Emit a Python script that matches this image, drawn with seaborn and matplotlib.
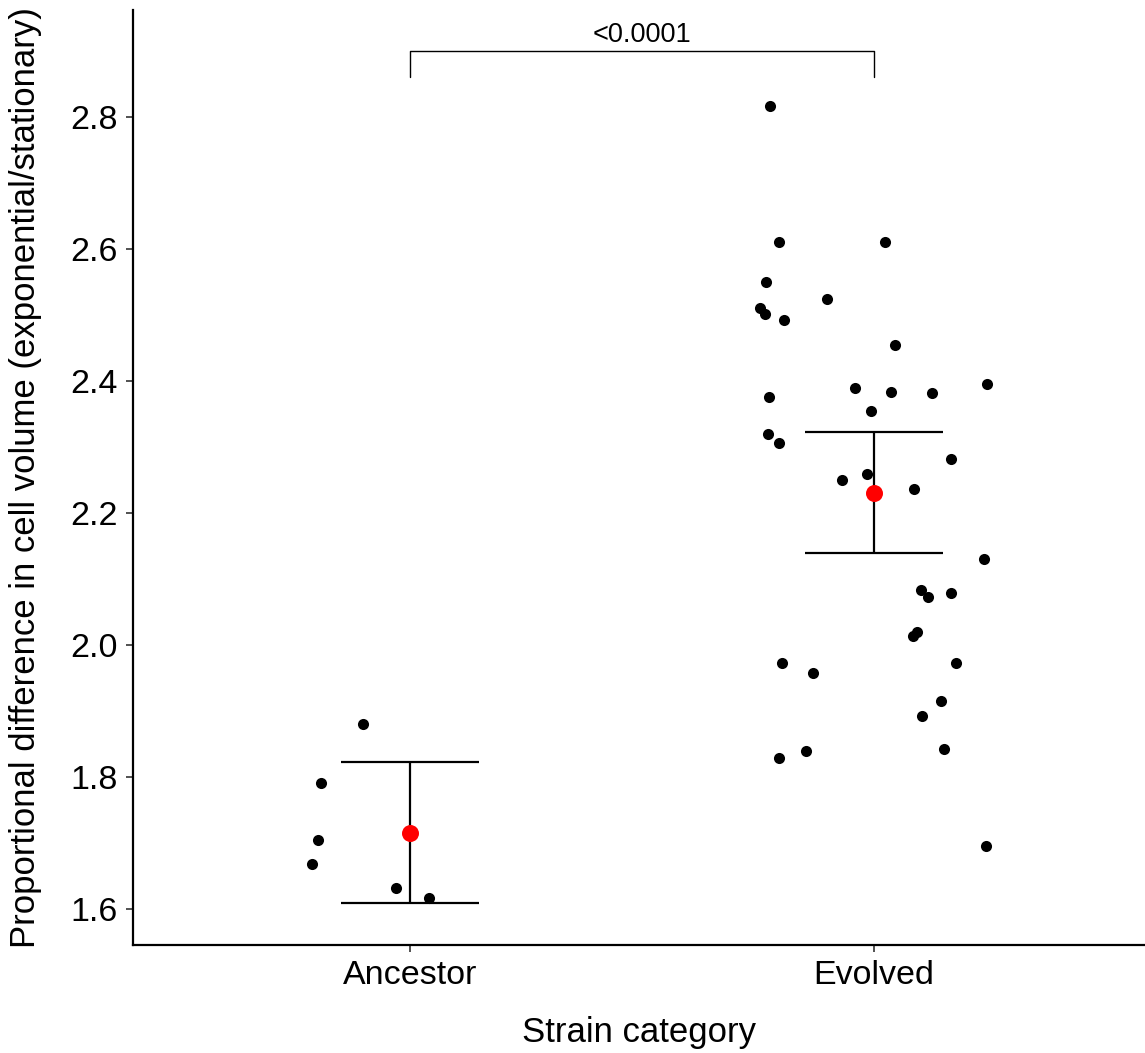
import matplotlib
matplotlib.use("Agg")
import matplotlib.pyplot as plt
import seaborn as sns
import numpy as np
import pandas as pd

# ---- data ----
categories = ["Ancestor", "Evolved"]

ancestor_values = [1.880, 1.791, 1.704, 1.668, 1.632, 1.616]
ancestor_jitter = [-0.101, -0.191, -0.199, -0.211, -0.031, 0.041]

evolved_values = [2.816, 2.611, 2.611, 2.550, 2.511, 2.502, 2.493, 2.524, 2.455,
                  2.375, 2.390, 2.384, 2.382, 2.395, 2.354, 2.319, 2.306, 2.250,
                  2.259, 2.237, 2.282, 2.130, 2.083, 2.072, 2.079, 2.020, 2.014,
                  1.972, 1.958, 1.972, 1.915, 1.892, 1.840, 1.829, 1.843, 1.696]
evolved_jitter = [-0.224, -0.204, 0.023, -0.232, -0.246, -0.236, -0.194, -0.101, 0.045,
                  -0.226, -0.040, 0.036, 0.124, 0.244, -0.006, -0.228, -0.204, -0.069,
                  -0.016, 0.087, 0.165, 0.236, 0.101, 0.116, 0.165, 0.092, 0.083,
                  -0.198, -0.131, 0.176, 0.145, 0.103, -0.147, -0.204, 0.150, 0.241]

group_means = [1.715, 2.231]
ci_lower = [1.609, 2.139]
ci_upper = [1.822, 2.323]

p_label = "<0.0001"
y_ticks = [1.6, 1.8, 2.0, 2.2, 2.4, 2.6, 2.8]
y_tick_labels = ["1.6", "1.8", "2.0", "2.2", "2.4", "2.6", "2.8"]

# ---- build tables ----
pts = pd.DataFrame({
    "pos": np.concatenate([0 + np.array(ancestor_jitter), 1 + np.array(evolved_jitter)]),
    "value": ancestor_values + evolved_values,
})
summ = pd.DataFrame({"pos": [0, 1], "mean": group_means, "lo": ci_lower, "hi": ci_upper})

sns.set_theme(style="ticks")
plt.rcParams["font.family"] = ["Liberation Sans", "DejaVu Sans"]

fig = plt.figure(figsize=(11.45, 10.53), dpi=100)
ax = fig.add_axes([133 / 1145, 1 - 945 / 1053, (1145 - 133) / 1145, 935 / 1053])

sns.scatterplot(data=pts, x="pos", y="value", color="black", s=64, linewidth=0, ax=ax, zorder=3)

ax.errorbar(summ["pos"], summ["mean"],
            yerr=[summ["mean"] - summ["lo"], summ["hi"] - summ["mean"]],
            fmt="none", ecolor="black", elinewidth=1.6, capsize=49.5, capthick=1.6, zorder=2)
sns.scatterplot(data=summ, x="pos", y="mean", color="red", s=150, linewidth=0, ax=ax, zorder=4)

# significance bracket
br_y, br_drop = 2.900, 0.040
ax.plot([0, 0, 1, 1], [br_y - br_drop, br_y, br_y, br_y - br_drop], color="black", lw=1.0,
        clip_on=False)
ax.text(0.5, br_y + 0.004, p_label, ha="center", va="bottom", fontsize=19.5, color="black")

ax.set_xlim(-0.597, 1.584)
ax.set_ylim(1.5455, 2.962)
ax.set_xticks([0, 1])
ax.set_xticklabels(categories, fontsize=24.5, color="black")
ax.set_yticks(y_ticks)
ax.set_yticklabels(y_tick_labels, fontsize=24.5, color="black")
ax.tick_params(axis="both", length=5, width=1.2, color="#333333", pad=6)

ax.set_xlabel("Strain category", fontsize=25, color="black", labelpad=18)
ax.set_ylabel("Proportional difference in cell volume (exponential/stationary)",
              fontsize=25, color="black", labelpad=20)

for sp in ["top", "right"]:
    ax.spines[sp].set_visible(False)
for sp in ["left", "bottom"]:
    ax.spines[sp].set_linewidth(1.6)
    ax.spines[sp].set_color("black")

fig.savefig("out.png", dpi=100)
